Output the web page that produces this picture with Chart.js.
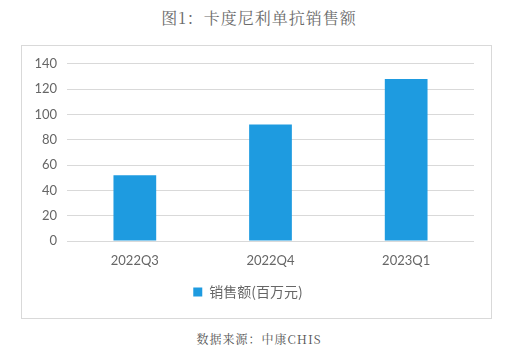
<!DOCTYPE html>
<html>
<head>
<meta charset="utf-8">
<script src="https://cdn.jsdelivr.net/npm/chart.js@4"></script>
<style>
  body { margin: 0; width: 518px; height: 351px; background: #fff; position: relative; overflow: hidden; }
  .title { position: absolute; left: 0; width: 518px; top: 6px; text-align: center;
    font-family: "Noto Serif CJK SC", "Liberation Serif", "Noto Sans CJK SC", serif; font-size: 16px; color: #6b6b6b; letter-spacing: 1px; }
  .box { position: absolute; left: 21px; top: 45px; width: 469px; height: 272px; border: 1px solid #d9d9d9; }
  .source { position: absolute; left: 0; width: 518px; top: 330px; text-align: center;
    font-family: "Noto Serif CJK SC", "Liberation Serif", "Noto Sans CJK SC", serif; font-size: 12px; color: #555; letter-spacing: 1px; }
</style>
</head>
<body>
<div class="title">图1：卡度尼利单抗销售额</div>
<div class="box"><canvas id="myChart" width="469" height="272"></canvas></div>
<div class="source">数据来源：中康CHIS</div>
<script>
const quarters = ['2022Q3', '2022Q4', '2023Q1'];
const sales = [52, 92, 128];
const seriesName = '销售额(百万元)';

const ctx = document.getElementById('myChart').getContext('2d');
const chart = new Chart(ctx, {
  type: 'bar',
  data: {
    labels: quarters,
    datasets: [
      {
        label: seriesName,
        data: sales,
        backgroundColor: '#1e9be0',
        barPercentage: 0.63,
        categoryPercentage: 0.5
      }
    ]
  },
  options: {
    responsive: false,
    animation: false,
    layout: { padding: { top: 17, right: 17, left: 0, bottom: 9 } },
    plugins: {
      tooltip: { enabled: false },
      legend: {
        position: 'bottom',
        labels: {
          boxWidth: 9,
          boxHeight: 9,
          color: '#666',
          font: { family: '"Noto Sans CJK SC", sans-serif', size: 14 }
        }
      }
    },
    scales: {
      x: {
        grid: { display: false },
        border: { display: false },
        ticks: { color: '#666', padding: 4, font: { family: 'Lato, "Open Sans", sans-serif', size: 13 } },
        afterFit: (scale) => { scale.height = 34; }
      },
      y: {
        min: 0,
        max: 140,
        border: { display: false },
        grid: { color: '#d9d9d9', drawTicks: false },
        ticks: { stepSize: 20, color: '#666', padding: 10, font: { family: 'Lato, "Open Sans", sans-serif', size: 13 } },
        afterFit: (scale) => { scale.width = 45; }
      }
    }
  }
});
</script>
</body>
</html>
